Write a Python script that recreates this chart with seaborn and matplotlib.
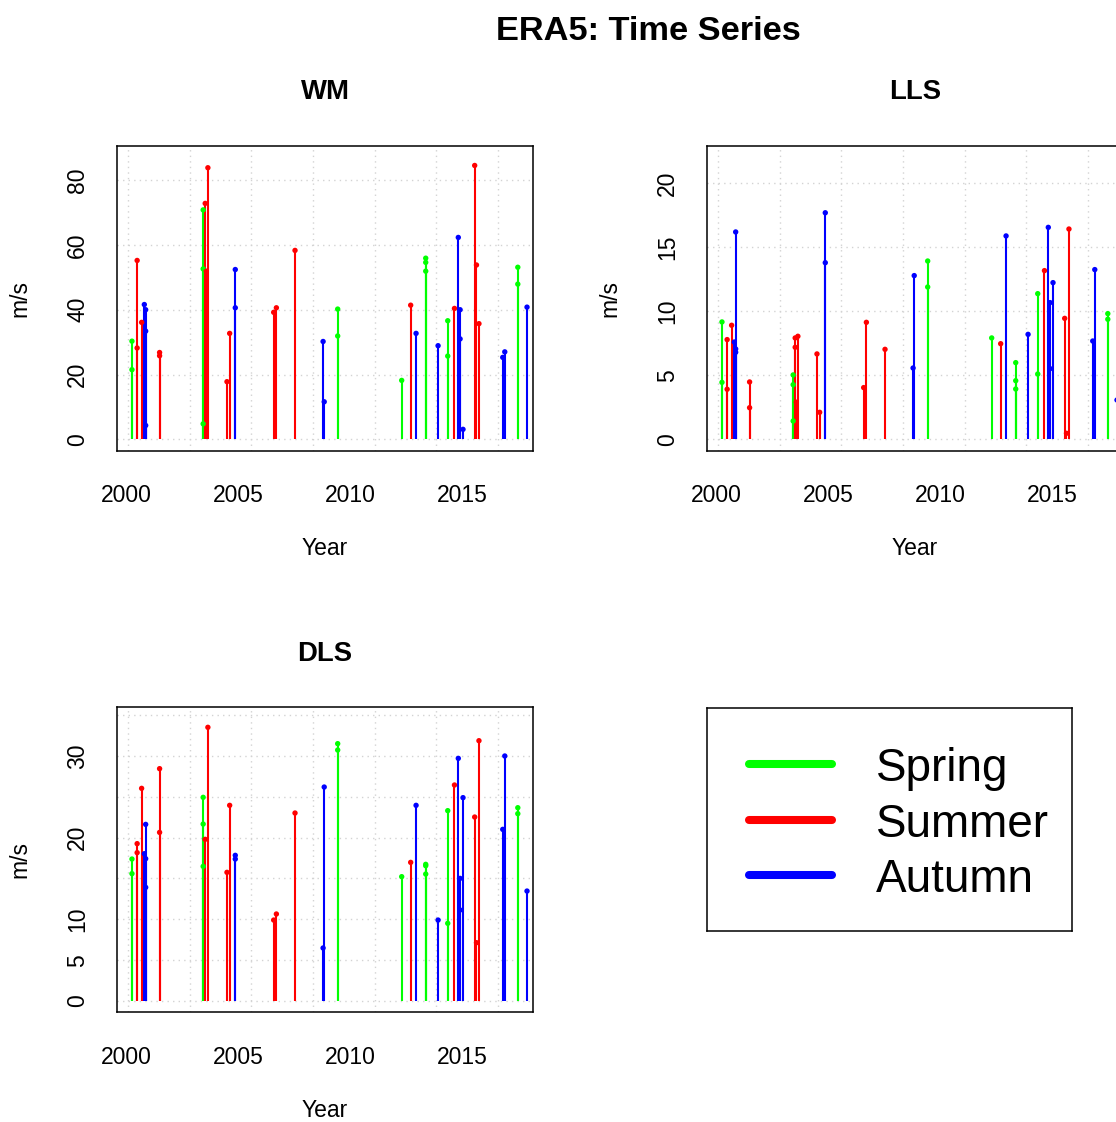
import numpy as np
import pandas as pd
import matplotlib
matplotlib.use("Agg")
import matplotlib.pyplot as plt
import seaborn as sns

sns.set_style("white")
plt.rcParams["font.family"] = ["Liberation Sans", "DejaVu Sans"]
plt.rcParams["text.color"] = "black"
plt.rcParams["axes.labelcolor"] = "black"
plt.rcParams["xtick.color"] = "black"
plt.rcParams["ytick.color"] = "black"

SEASON_COLORS = {"Spring": "#00FF00", "Summer": "#FF0000", "Autumn": "#0000FF"}
SEASONS = ["Spring", "Summer", "Autumn"]

# ---- WM -------------------------------------------------------------------
wm_year = [2000.27, 2000.27, 2000.50, 2000.50, 2000.70, 2000.82, 2000.88, 2000.88, 2000.88,
           2001.50, 2001.50, 2003.44, 2003.44, 2003.44, 2003.53, 2003.58, 2003.65,
           2004.50, 2004.62, 2004.87, 2004.87, 2006.58, 2006.70, 2007.53,
           2008.78, 2008.83, 2009.43, 2009.43, 2012.28, 2012.68, 2012.92,
           2013.35, 2013.35, 2013.35, 2013.90, 2014.33, 2014.33, 2014.63,
           2014.80, 2014.88, 2014.88, 2015.01, 2015.53, 2015.61, 2015.72,
           2016.78, 2016.87, 2017.45, 2017.45, 2017.86]
wm_value = [30.3, 21.5, 55.2, 28.2, 36.1, 41.6, 40.0, 33.4, 4.3,
            26.8, 25.8, 70.8, 52.6, 4.8, 72.8, 51.9, 83.8,
            17.8, 32.7, 52.4, 40.6, 39.2, 40.6, 58.3,
            30.2, 11.6, 40.2, 31.9, 18.2, 41.4, 32.7,
            55.9, 54.6, 51.9, 28.9, 36.6, 25.7, 40.4,
            62.3, 40.0, 31.0, 3.1, 84.5, 53.8, 35.7,
            25.3, 27.0, 53.1, 47.9, 40.8]
wm_season = ["Spring", "Spring", "Summer", "Summer", "Summer", "Autumn", "Autumn", "Autumn", "Autumn",
             "Summer", "Summer", "Spring", "Spring", "Spring", "Summer", "Summer", "Summer",
             "Summer", "Summer", "Autumn", "Autumn", "Summer", "Summer", "Summer",
             "Autumn", "Autumn", "Spring", "Spring", "Spring", "Summer", "Autumn",
             "Spring", "Spring", "Spring", "Autumn", "Spring", "Spring", "Summer",
             "Autumn", "Autumn", "Autumn", "Autumn", "Summer", "Summer", "Summer",
             "Autumn", "Autumn", "Spring", "Spring", "Autumn"]

# ---- LLS ------------------------------------------------------------------
lls_year = [2000.27, 2000.27, 2000.50, 2000.50, 2000.70, 2000.82, 2000.88, 2000.88, 2000.88,
            2001.50, 2001.50, 2003.44, 2003.44, 2003.44, 2003.53, 2003.53, 2003.58, 2003.65,
            2004.50, 2004.62, 2004.87, 2004.87, 2006.58, 2006.70, 2007.53,
            2008.78, 2008.83, 2009.43, 2009.43, 2012.28, 2012.68, 2012.92,
            2013.35, 2013.35, 2013.35, 2013.90, 2014.33, 2014.33, 2014.63,
            2014.80, 2014.88, 2014.88, 2015.01, 2015.53, 2015.61, 2015.72,
            2016.78, 2016.87, 2017.45, 2017.45, 2017.86]
lls_value = [9.17, 4.45, 7.79, 3.91, 8.91, 7.60, 16.2, 7.06, 6.80,
             4.48, 2.47, 5.03, 4.27, 1.43, 7.92, 7.19, 2.90, 8.05,
             6.67, 2.11, 17.7, 13.8, 4.04, 9.14, 7.03,
             5.57, 12.79, 13.93, 11.9, 7.92, 7.47, 15.89,
             5.99, 4.58, 3.93, 8.20, 11.38, 5.10, 13.18,
             16.56, 10.68, 5.52, 12.24, 9.45, 0.47, 16.43,
             7.68, 13.26, 9.82, 9.38, 3.07]
lls_season = ["Spring", "Spring", "Summer", "Summer", "Summer", "Autumn", "Autumn", "Autumn", "Autumn",
              "Summer", "Summer", "Spring", "Spring", "Spring", "Summer", "Summer", "Summer", "Summer",
              "Summer", "Summer", "Autumn", "Autumn", "Summer", "Summer", "Summer",
              "Autumn", "Autumn", "Spring", "Spring", "Spring", "Summer", "Autumn",
              "Spring", "Spring", "Spring", "Autumn", "Spring", "Spring", "Summer",
              "Autumn", "Autumn", "Autumn", "Autumn", "Summer", "Summer", "Summer",
              "Autumn", "Autumn", "Spring", "Spring", "Autumn"]

# ---- DLS ------------------------------------------------------------------
dls_year = [2000.27, 2000.27, 2000.50, 2000.50, 2000.70, 2000.82, 2000.88, 2000.88, 2000.88,
            2001.50, 2001.50, 2003.44, 2003.44, 2003.44, 2003.53, 2003.65,
            2004.50, 2004.62, 2004.87, 2004.87, 2006.58, 2006.70, 2007.53,
            2008.78, 2008.83, 2009.43, 2009.43, 2012.28, 2012.68, 2012.92,
            2013.35, 2013.35, 2013.35, 2013.90, 2014.33, 2014.33, 2014.63,
            2014.80, 2014.88, 2014.88, 2015.01, 2015.53, 2015.61, 2015.72,
            2016.78, 2016.87, 2017.45, 2017.45, 2017.86]
dls_value = [17.38, 15.59, 19.26, 18.16, 26.03, 18.03, 21.62, 17.42, 13.91,
             28.44, 20.64, 24.93, 21.66, 16.48, 19.79, 33.5,
             15.75, 23.95, 17.83, 17.38, 9.91, 10.65, 23.01,
             6.49, 26.19, 31.5, 30.72, 15.22, 16.97, 23.95,
             16.73, 16.56, 15.54, 9.91, 23.3, 9.51, 26.44,
             29.7, 15.01, 11.14, 24.89, 22.52, 7.14, 31.86,
             21.01, 29.99, 23.66, 22.93, 13.46]
dls_season = ["Spring", "Spring", "Summer", "Summer", "Summer", "Autumn", "Autumn", "Autumn", "Autumn",
              "Summer", "Summer", "Spring", "Spring", "Spring", "Summer", "Summer",
              "Summer", "Summer", "Autumn", "Autumn", "Summer", "Summer", "Summer",
              "Autumn", "Autumn", "Spring", "Spring", "Spring", "Summer", "Autumn",
              "Spring", "Spring", "Spring", "Autumn", "Spring", "Spring", "Summer",
              "Autumn", "Autumn", "Autumn", "Autumn", "Summer", "Summer", "Summer",
              "Autumn", "Autumn", "Spring", "Spring", "Autumn"]

x_ticks = [2000, 2005, 2010, 2015]
wm_ticks = [0, 20, 40, 60, 80]
wm_ticklabels = ["0", "20", "40", "60", "80"]
lls_ticks = [0, 5, 10, 15, 20]
lls_ticklabels = ["0", "5", "10", "15", "20"]
dls_ticks = [0, 5, 10, 15, 20, 25, 30, 35]
dls_ticklabels = ["0", "5", "10", "", "20", "", "30", ""]

FS = 16.5
W, H = 1116, 1122
fig = plt.figure(figsize=(W / 100, H / 100), dpi=100)


def px_axes(left, top, right, bottom):
    return fig.add_axes([left / W, 1 - bottom / H, (right - left) / W, (bottom - top) / H])


def panel(ax, title, years, values, seasons, yticks, yticklabels, ylim):
    df = pd.DataFrame({"year": years, "value": values, "season": seasons})
    xlim = (1999.59, 2018.14)
    # dotted background grid
    for gx in np.arange(2000.10, 2018.0, 2.745):
        ax.axvline(gx, color="#D3D3D3", lw=1.0, ls=(0, (1, 3)), zorder=0)
    for gy in yticks:
        ax.axhline(gy, color="#D3D3D3", lw=1.0, ls=(0, (1, 3)), zorder=0)
    # stems from zero to each value
    ax.vlines(df["year"], 0, df["value"],
              colors=[SEASON_COLORS[s] for s in df["season"]], lw=1.5, zorder=2)
    sns.scatterplot(data=df, x="year", y="value", hue="season", hue_order=SEASONS,
                    palette=SEASON_COLORS, s=15, linewidth=0, legend=False, ax=ax, zorder=3)
    ax.set_xlim(*xlim)
    ax.set_ylim(*ylim)
    ax.set_xticks(x_ticks)
    ax.set_xticklabels([str(t) for t in x_ticks])
    ax.set_yticks(yticks)
    ax.set_yticklabels(yticklabels)
    for lbl in ax.get_yticklabels():
        lbl.set_rotation(90)
        lbl.set_va("center")
        lbl.set_ha("center")
    ax.tick_params(axis="both", direction="out", length=10, width=1.1, color="black",
                   labelsize=FS, labelcolor="black")
    ax.tick_params(axis="x", pad=14)
    ax.tick_params(axis="y", pad=18)
    for sp in ax.spines.values():
        sp.set_visible(True)
        sp.set_color("black")
        sp.set_linewidth(1.1)
    ax.set_xlabel("Year", fontsize=FS, va="center", color="black")
    ax.xaxis.set_label_coords(0.5, -0.322)
    ax.set_ylabel("m/s", fontsize=FS, va="center", color="black")
    ax.yaxis.set_label_coords(-0.232, 0.5)
    ax.text(0.5, 1.176, title, transform=ax.transAxes, ha="center", va="center",
            fontsize=FS * 1.2, fontweight="bold", color="black")


ax_wm = px_axes(116.7, 145.7, 533.3, 450.7)
panel(ax_wm, "WM", wm_year, wm_value, wm_season, wm_ticks, wm_ticklabels, (-3.49, 90.6))

ax_lls = px_axes(706.7, 145.7, 1123.3, 450.7)
panel(ax_lls, "LLS", lls_year, lls_value, lls_season, lls_ticks, lls_ticklabels, (-0.89, 22.94))

ax_dls = px_axes(116.7, 707.3, 533.3, 1012.3)
panel(ax_dls, "DLS", dls_year, dls_value, dls_season, dls_ticks, dls_ticklabels, (-1.38, 35.95))

# season key
ax_leg = px_axes(706.7, 708.3, 1072.3, 931.0)
ax_leg.set_xlim(0, 1)
ax_leg.set_ylim(0, 1)
ax_leg.set_xticks([])
ax_leg.set_yticks([])
for sp in ax_leg.spines.values():
    sp.set_visible(True)
    sp.set_color("black")
    sp.set_linewidth(1.1)
for i, season in enumerate(SEASONS):
    yy = 0.749 - i * 0.249
    ax_leg.plot([0.115, 0.342], [yy, yy], color=SEASON_COLORS[season], lw=5.8,
                solid_capstyle="round")
    ax_leg.text(0.462, yy, season, fontsize=FS * 2, ha="left", va="center_baseline",
                color="black")

fig.text(648 / W, 1 - 31 / H, "ERA5: Time Series", ha="center", va="center",
         fontsize=FS * 1.5, fontweight="bold", color="black")

fig.savefig("out.png", dpi=100)
